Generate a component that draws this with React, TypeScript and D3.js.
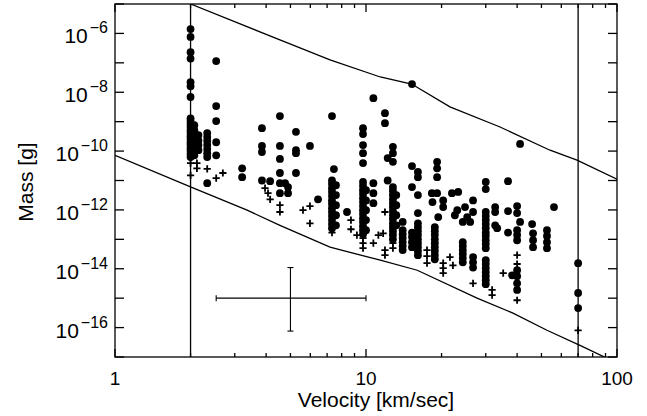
import React from 'react';
import * as d3 from 'd3';

// velocity [km/s] -> masses [g], one entry per column of markers
const circleCols: [number, number[]][] = [
  [2.0, [1.4e-6, 7.6e-7, 2.3e-7, 1.4e-7, 2.2e-8, 1.6e-8, 6.9e-9, 1.3e-9, 1.05e-9, 8.3e-10, 6.6e-10, 5.1e-10, 4.1e-10, 3.2e-10, 2.6e-10, 2.0e-10, 1.6e-10, 1.26e-10, 1.0e-10, 7.9e-11, 6.3e-11]],
  [2.07, [7.6e-10, 5.1e-10, 3.5e-10, 2.3e-10, 1.6e-10, 1.07e-10, 7.2e-11]],
  [2.15, [3.5e-10, 2.3e-10, 1.6e-10, 1.07e-10]],
  [2.33, [4.1e-10, 3.0e-10, 2.2e-10, 1.6e-10, 1.17e-10, 8.5e-11, 6.3e-11, 8.1e-12]],
  [2.53, [1.15e-7, 3.4e-9, 1.05e-9, 2.0e-10, 7.2e-11]],
  [3.21, [2.6e-11, 1.3e-11]],
  [3.85, [6.0e-10, 1.5e-10, 9.3e-11, 1.0e-11]],
  [4.15, [9.5e-12]],
  [4.54, [1.55e-9, 1.5e-10, 5.4e-11, 1.8e-11, 8.1e-12, 3.7e-12]],
  [4.76, [8.1e-12]],
  [4.89, [6.0e-12, 3.7e-12]],
  [5.26, [4.5e-10, 1.07e-10, 8.5e-11, 1.8e-11]],
  [5.98, [1.5e-10]],
  [6.44, [2.3e-12]],
  [7.32, [1.55e-9, 1.0e-11, 7.6e-12, 5.5e-12, 4.1e-12, 2.95e-12, 2.1e-12, 1.6e-12, 1.15e-12, 8.5e-13, 6.2e-13, 4.5e-13, 3.3e-13, 2.4e-13]],
  [7.45, [2.45e-11]],
  [7.59, [6.9e-12, 3.2e-12, 1.45e-12, 6.6e-13, 3.0e-13]],
  [8.4, [8.5e-13]],
  [9.73, [6.0e-10, 3.8e-10, 1.6e-10, 8.5e-11, 3.9e-11, 8.9e-12, 6.5e-12, 4.7e-12, 3.5e-12, 2.5e-12, 1.85e-12, 1.35e-12, 9.8e-13, 7.2e-13, 5.2e-13, 3.9e-13, 2.8e-13, 2.05e-13, 1.5e-13]],
  [10.0, [4.7e-12, 2.1e-12, 9.8e-13, 4.5e-13, 2.05e-13]],
  [10.7, [6.3e-9, 8.1e-12, 3.7e-12, 1.7e-12]],
  [11.9, [1.95e-9, 8.9e-10]],
  [12.2, [5.8e-11, 1.0e-11]],
  [12.8, [1.4e-10, 8.5e-11, 4.3e-11, 6.0e-12, 4.4e-12, 3.2e-12, 2.3e-12, 1.7e-12, 1.25e-12, 9.1e-13, 6.6e-13, 4.9e-13, 3.5e-13, 2.6e-13, 1.9e-13, 1.4e-13, 1.0e-13]],
  [13.2, [3.2e-12, 1.45e-12, 6.6e-13, 3.0e-13]],
  [14.0, [3.9e-13, 2.05e-13, 1.5e-13, 1.1e-13, 8.0e-14, 5.9e-14, 4.3e-14]],
  [15.25, [1.9e-8, 3.1e-11, 6.0e-12, 1.7e-13, 1.2e-13, 8.0e-14, 5.4e-14]],
  [16.1, [1.95e-11, 1.3e-11, 3.2e-12, 7.8e-13, 3.5e-13, 2.6e-13, 1.9e-13, 1.4e-13, 1.0e-13, 7.4e-14, 5.4e-14, 4.0e-14, 2.9e-14]],
  [18.3, [3.7e-12]],
  [18.4, [1.85e-12]],
  [18.8, [2.6e-13, 1.9e-13, 1.4e-13, 1.0e-13, 7.4e-14, 5.4e-14, 4.0e-14, 2.9e-14, 2.1e-14]],
  [19.2, [4.3e-11, 2.6e-11, 1.3e-11, 3.7e-12]],
  [19.4, [5.7e-13]],
  [20.3, [2.1e-12, 1.25e-12]],
  [22.0, [3.7e-12]],
  [22.6, [6.6e-13]],
  [23.1, [9.8e-13]],
  [23.3, [4.1e-12]],
  [24.3, [3.9e-13, 8.0e-14, 5.9e-14, 4.3e-14, 3.2e-14, 2.3e-14, 1.65e-14]],
  [24.8, [1.25e-12]],
  [25.3, [5.7e-13]],
  [26.0, [3.9e-13]],
  [26.7, [2.1e-12, 8.5e-13, 2.5e-14, 1.65e-14, 1.1e-14]],
  [30.0, [8.9e-12, 5.1e-12, 8.5e-13, 6.2e-13, 4.5e-13, 3.3e-13, 2.4e-13, 1.7e-13, 1.3e-13, 9.3e-14, 6.9e-14, 5.0e-14, 1.95e-14, 1.45e-14, 1.05e-14, 7.6e-15, 5.6e-15, 4.1e-15, 3.0e-15]],
  [32.7, [1.25e-12, 8.5e-13, 3.0e-13]],
  [33.3, [2.4e-13]],
  [36.8, [9.5e-12, 9.1e-13, 1.7e-13]],
  [38.2, [6.0e-15]],
  [40.0, [1.35e-12, 7.8e-13, 2.05e-13, 1.4e-13, 9.3e-14, 8.9e-15, 5.6e-15, 3.2e-15, 1.9e-15]],
  [41.1, [1.75e-10, 3.9e-13]],
  [45.9, [3.3e-13]],
  [46.3, [1.6e-13, 9.3e-14, 5.4e-14]],
  [52.6, [2.05e-13, 1.3e-13, 8.0e-14, 5.0e-14]],
  [56.1, [1.25e-12]],
  [70.0, [1.55e-14, 1.5e-15, 4.6e-16]],
];

const plusCols: [number, number[]][] = [
  [2.0, [3.9e-11, 1.5e-11]],
  [2.12, [3.9e-11, 2.6e-11]],
  [2.33, [2.5e-11]],
  [2.53, [1.2e-11]],
  [2.69, [1.8e-11]],
  [3.96, [5.5e-12]],
  [4.07, [3.7e-12]],
  [4.15, [2.3e-12]],
  [4.54, [1.45e-12, 8.5e-13]],
  [5.61, [9.8e-13]],
  [5.98, [1.35e-12, 3.5e-13]],
  [7.32, [1.7e-13]],
  [8.71, [4.5e-13, 2.2e-13]],
  [9.2, [1.4e-13]],
  [9.73, [1.1e-13, 7.4e-14, 5.0e-14]],
  [10.7, [7.4e-14]],
  [11.2, [1.4e-13]],
  [11.7, [1.6e-13]],
  [11.9, [8.5e-13, 4.3e-14, 2.9e-14]],
  [12.8, [7.4e-14, 5.0e-14]],
  [17.5, [4.3e-14, 2.7e-14, 1.55e-14]],
  [20.3, [1.55e-14, 1.05e-14, 7.1e-15]],
  [21.6, [2.5e-14]],
  [22.2, [1.3e-14]],
  [26.7, [3.2e-15]],
  [31.8, [1.9e-15, 1.26e-15]],
  [35.2, [7.1e-15]],
  [40.0, [2.9e-14, 1.45e-14, 8.5e-16]],
  [70.0, [8.1e-17]],
];

// boundary curves [velocity, mass]
const upperBound: [number, number][] = [
  [2.0, 1e-5], [4.54, 6.0e-7], [7.19, 1.26e-7], [11.4, 3.3e-8], [15.2, 1.9e-8],
  [21.6, 3.2e-9], [34.2, 6.6e-10], [54.1, 1.07e-10], [69.3, 4.9e-11], [100, 1.1e-11],
];
const lowerBound: [number, number][] = [
  [1, 7.2e-11], [2.01, 6.0e-12], [3.36, 9.8e-13], [4.54, 3.0e-13], [7.19, 5.4e-14],
  [11.4, 1.95e-14], [16, 8.9e-15], [27.7, 1.0e-15], [38.5, 3.1e-16], [52.6, 8.1e-17],
  [71.2, 2.5e-17], [91.2, 9.1e-18],
];

const velocityLimits = [2, 70];
// typical error: centre, velocity range, mass range
const errCentre: [number, number] = [5, 1e-15];
const errVel = [2.53, 10];
const errMass = [1.1e-14, 7.6e-17];

const xMajor = [1, 10, 100];
const xMinor = [2, 3, 4, 5, 6, 7, 8, 9, 20, 30, 40, 50, 60, 70, 80, 90];
const yDecades = d3.range(-17, -4); // 1e-17 .. 1e-5
const yLabelExps = [-16, -14, -12, -10, -8, -6];

const W = 647, H = 416;
const left = 115, right = 617, top = 4, bottom = 357;
const font = '"Liberation Sans", Arial, Helvetica, sans-serif';

export default function App() {
  const x = d3.scaleLog().domain([1, 100]).range([left, right]);
  const y = d3.scaleLog().domain([1e-17, 1e-5]).range([bottom, top]);
  const line = d3.line<[number, number]>().x(d => x(d[0])).y(d => y(d[1]));

  const circles = circleCols.flatMap(([v, ms]) => ms.map(m => [v, m]));
  const pluses = plusCols.flatMap(([v, ms]) => ms.map(m => [v, m]));

  const sw = 1.3;
  return (
    <svg width={W} height={H} style={{ position: 'absolute', left: 0, top: 0, background: '#fff' }}>
      <defs>
        <clipPath id="plot">
          <rect x={left} y={top} width={right - left} height={bottom - top} />
        </clipPath>
      </defs>

      <g clipPath="url(#plot)" fill="none" stroke="#000" strokeWidth={sw}>
        <path d={line(upperBound) || ''} />
        <path d={line(lowerBound) || ''} />
        {velocityLimits.map(v => (
          <line key={v} x1={x(v)} x2={x(v)} y1={top} y2={bottom} />
        ))}
      </g>

      {/* error cross */}
      <g stroke="#000" strokeWidth={1.1}>
        <line x1={x(errVel[0])} x2={x(errVel[1])} y1={y(errCentre[1])} y2={y(errCentre[1])} />
        {errVel.map(v => (
          <line key={v} x1={x(v)} x2={x(v)} y1={y(errCentre[1]) - 3} y2={y(errCentre[1]) + 3} />
        ))}
        <line x1={x(errCentre[0])} x2={x(errCentre[0])} y1={y(errMass[0])} y2={y(errMass[1])} />
        {errMass.map(m => (
          <line key={m} x1={x(errCentre[0]) - 3} x2={x(errCentre[0]) + 3} y1={y(m)} y2={y(m)} />
        ))}
      </g>

      <g fill="#000">
        {circles.map((d, i) => (
          <circle key={i} cx={x(d[0])} cy={y(d[1])} r={3.9} />
        ))}
      </g>
      <g stroke="#000" strokeWidth={1.8} fill="none">
        {pluses.map((d, i) => (
          <path key={i} transform={`translate(${x(d[0])},${y(d[1])})`} d="M-3.6,0H3.6M0,-3.6V3.6" />
        ))}
      </g>

      {/* frame and ticks */}
      <g stroke="#000" strokeWidth={sw} fill="none">
        <rect x={left} y={top} width={right - left} height={bottom - top} />
        {xMajor.concat(xMinor).map(v => {
          const len = xMajor.includes(v) ? 8 : 4;
          return (
            <g key={v}>
              <line x1={x(v)} x2={x(v)} y1={bottom} y2={bottom - len} />
              <line x1={x(v)} x2={x(v)} y1={top} y2={top + len} />
            </g>
          );
        })}
        {yDecades.map(e => (
          <g key={e}>
            <line x1={left} x2={left + 9} y1={y(10 ** e)} y2={y(10 ** e)} />
            <line x1={right} x2={right - 9} y1={y(10 ** e)} y2={y(10 ** e)} />
          </g>
        ))}
      </g>

      <g fontFamily={font} fill="#000">
        {xMajor.map(v => (
          <text key={v} x={x(v)} y={385} fontSize={19} textAnchor="middle">{v}</text>
        ))}
        {yLabelExps.map(e => (
          <text key={e} x={108} y={y(10 ** e) + 10} fontSize={21} textAnchor="end">
            10<tspan fontSize={16} dx={2} dy={-10}>{'\u2212' + Math.abs(e)}</tspan>
          </text>
        ))}
        <text x={376} y={407} fontSize={21} textAnchor="middle">Velocity [km/sec]</text>
        <text transform={`translate(33,182) rotate(-90)`} fontSize={21} textAnchor="middle">Mass [g]</text>
      </g>
    </svg>
  );
}
